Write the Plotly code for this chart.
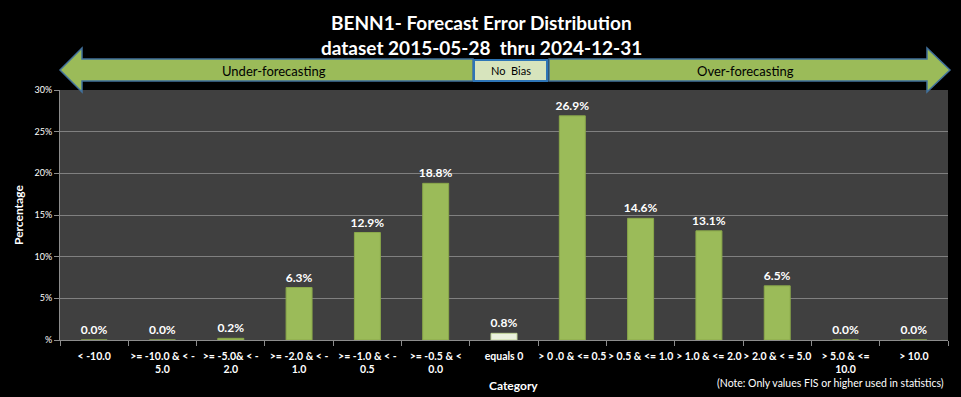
import plotly.graph_objects as go

categories = ["< -10.0", ">= -10.0 & < -<br>5.0", ">= -5.0& < -<br>2.0", ">= -2.0 & < -<br>1.0",
              ">= -1.0 & < -<br>0.5", ">= -0.5 & <<br>0.0", "equals 0", "> 0 .0 & <= 0.5",
              "> 0.5 & <= 1.0", "> 1.0 & <= 2.0", "> 2.0 & < = 5.0", "> 5.0 & <=<br>10.0", "> 10.0"]
values = [0.0, 0.0, 0.2, 6.3, 12.9, 18.8, 0.8, 26.9, 14.6, 13.1, 6.5, 0.0, 0.0]
ytick_vals = [0, 5, 10, 15, 20, 25, 30]
ytick_text = ["%", "5%", "10%", "15%", "20%", "25%", "30%"]

W, H = 961, 397
L, R, T, B = 60, 13, 90, 57
PW, PH = W - L - R, H - T - B
FONT = "Lato, Calibri, sans-serif"

def px(x):
    return (x - L) / PW

def py(y):
    return (H - B - y) / PH

def path(pts):
    return "M " + " L ".join(f"{px(x):.5f},{py(y):.5f}" for x, y in pts) + " Z"

colors = ["#EBF1DE" if c == "equals 0" else "#9BBB59" for c in categories]
line_colors = ["#C4D79B" if c == "equals 0" else "#8AA84A" for c in categories]

fig = go.Figure()
fig.add_trace(go.Bar(
    x=categories, y=values, width=0.38,
    marker=dict(color=colors, line=dict(color=line_colors, width=1)),
    text=[f"{v:.1f}%" for v in values], textposition="outside", cliponaxis=False,
    constraintext="none",
    textfont=dict(family=FONT, size=12, color="white", weight="bold"),
    showlegend=False,
))

shapes = [
    dict(type="path", xref="paper", yref="paper",
         path=path([(60, 70), (82, 48), (82, 59), (473, 59), (473, 81), (82, 81), (82, 92)]),
         fillcolor="#9BBB59", line=dict(color="#41719C", width=1.5), layer="above"),
    dict(type="rect", xref="paper", yref="paper",
         x0=px(474), x1=px(547), y0=py(60), y1=py(81),
         fillcolor="#D7E4BD", line=dict(color="#2E75B6", width=2), layer="above"),
    dict(type="path", xref="paper", yref="paper",
         path=path([(950, 70), (927, 48), (927, 59), (549, 59), (549, 81), (927, 81), (927, 92)]),
         fillcolor="#9BBB59", line=dict(color="#41719C", width=1.5), layer="above"),
]

def ann(text, x, y, size, color="white", **kw):
    return dict(text=text, x=px(x), y=py(y), xref="paper", yref="paper", showarrow=False,
                xanchor="center", yanchor="middle", font=dict(family=FONT, size=size, color=color), **kw)

annotations = [
    ann("Under-forecasting", 274, 71, 13, "black"),
    ann("No  Bias", 511, 71, 11, "black"),
    ann("Over-forecasting", 745, 71, 13, "black"),
    ann("<b>BENN1- Forecast Error Distribution</b>", 481, 22, 19),
    ann("<b>dataset 2015-05-28  thru 2024-12-31</b>", 481, 47, 19),
    ann("<b>Category</b>", 513, 385, 12),
    ann("(Note: Only values FIS or higher used in statistics)", 830, 383, 10.5),
    ann("<b>Percentage</b>", 18, 215, 12, textangle=-90),
]

fig.update_layout(
    width=W, height=H, margin=dict(l=L, r=R, t=T, b=B),
    paper_bgcolor="black", plot_bgcolor="#404040",
    shapes=shapes, annotations=annotations,
    font=dict(family=FONT, color="white"),
)
fig.update_xaxes(
    showgrid=False, showline=True, linecolor="#8c8c8c", linewidth=1,
    ticks="outside", tickson="boundaries", ticklen=5, tickcolor="#8c8c8c",
    tickfont=dict(family=FONT, size=10.5, color="white", weight="bold"),
    tickangle=0, ticklabelstandoff=6,
)
fig.update_yaxes(
    range=[0, 30], tickvals=ytick_vals, ticktext=ytick_text,
    showgrid=True, gridcolor="#808080", gridwidth=1, zeroline=False,
    showline=True, linecolor="#8c8c8c", linewidth=1,
    ticks="outside", ticklen=5, tickcolor="#8c8c8c",
    tickfont=dict(family=FONT, size=9, color="white"),
)

fig.write_html("out.html", config={"displayModeBar": False},
               post_script="document.body.style.margin='0';document.body.style.overflow='hidden';")
